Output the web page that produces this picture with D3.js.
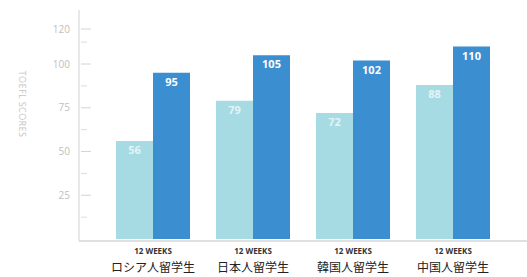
<!DOCTYPE html>
<html>
<head>
<meta charset="utf-8">
<script src="https://cdn.jsdelivr.net/npm/d3@7"></script>
<style>
  body { margin: 0; background: #fff; }
  svg { display: block; }
</style>
</head>
<body>
<script>
var categories = ['ロシア人留学生', '日本人留学生', '韓国人留学生', '中国人留学生'];
var series = ['before', 'after'];
var beforeScores = [56, 79, 72, 88];
var afterScores = [95, 105, 102, 110];
var tickValues = [25, 50, 75, 100, 120];
var minorTicks = [12.5, 37.5, 62.5, 87.5, 112.5];
var weeksLabel = '12 WEEKS';

var width = 527, height = 277;
var colors = { before: '#a7dbe3', after: '#3b8ed0' };

var svg = d3.select('body').append('svg').attr('width', width).attr('height', height);

var y = d3.scaleLinear().domain([0, 100]).range([239, 64]);
var x = d3.scaleBand().domain(categories).range([103, 503]).paddingInner(0.26).paddingOuter(0.13);
var xs = d3.scaleBand().domain(series).range([0, x.bandwidth()]);

var rows = categories.map(function (c, i) {
  return { cat: c, values: [
    { key: 'before', value: beforeScores[i] },
    { key: 'after', value: afterScores[i] }
  ] };
});

// axis line + baseline
svg.append('line').attr('x1', 79).attr('x2', 79).attr('y1', 10).attr('y2', 241)
  .attr('stroke', '#e0e0e0').attr('stroke-width', 1.5);
svg.append('line').attr('x1', 79).attr('x2', width).attr('y1', 241).attr('y2', 241)
  .attr('stroke', '#e0e0e0').attr('stroke-width', 2);

// ticks
svg.selectAll('.major').data(tickValues).enter().append('line')
  .attr('x1', 81).attr('x2', 91)
  .attr('y1', function (d) { return y(d); }).attr('y2', function (d) { return y(d); })
  .attr('stroke', '#d4d4d4').attr('stroke-width', 1);
svg.selectAll('.minor').data(minorTicks).enter().append('line')
  .attr('x1', 81).attr('x2', 87)
  .attr('y1', function (d) { return y(d); }).attr('y2', function (d) { return y(d); })
  .attr('stroke', '#dedede').attr('stroke-width', 1);
svg.selectAll('.tlab').data(tickValues).enter().append('text')
  .attr('x', 70).attr('y', function (d) { return y(d); }).attr('dy', '0.35em')
  .attr('text-anchor', 'end')
  .attr('font-family', 'Open Sans, sans-serif').attr('font-size', 10)
  .attr('fill', '#c0c0c0')
  .text(function (d) { return d; });

svg.append('text')
  .attr('transform', 'translate(22,104) rotate(90)')
  .attr('text-anchor', 'middle').attr('dy', '0.35em')
  .attr('font-family', 'Open Sans, sans-serif').attr('font-size', 9)
  .attr('letter-spacing', 0.4)
  .attr('fill', '#c4c4c4')
  .text('TOEFL SCORES');

// bars
var groups = svg.selectAll('.grp').data(rows).enter().append('g')
  .attr('transform', function (d) { return 'translate(' + x(d.cat) + ',0)'; });

groups.selectAll('rect').data(function (d) { return d.values; }).enter().append('rect')
  .attr('x', function (d) { return xs(d.key); })
  .attr('width', xs.bandwidth())
  .attr('y', function (d) { return y(d.value); })
  .attr('height', function (d) { return y(0) - y(d.value); })
  .attr('fill', function (d) { return colors[d.key]; });

groups.selectAll('.val').data(function (d) { return d.values; }).enter().append('text')
  .attr('x', function (d) { return xs(d.key) + xs.bandwidth() / 2; })
  .attr('y', function (d) { return y(d.value) + 13; })
  .attr('text-anchor', 'middle')
  .attr('font-family', 'Open Sans, sans-serif').attr('font-weight', 'bold').attr('font-size', 11)
  .attr('fill', '#fff')
  .attr('fill-opacity', function (d) { return d.key === 'before' ? 0.7 : 1; })
  .text(function (d) { return d.value; });

// category labels
groups.append('text')
  .attr('x', x.bandwidth() / 2).attr('y', 254)
  .attr('text-anchor', 'middle')
  .attr('font-family', 'Open Sans, sans-serif').attr('font-weight', 'bold').attr('font-size', 8)
  .attr('fill', '#333')
  .text(weeksLabel);
groups.append('text')
  .attr('x', x.bandwidth() / 2).attr('y', 272)
  .attr('text-anchor', 'middle')
  .attr('font-family', 'Noto Sans CJK JP, sans-serif').attr('font-size', 12)
  .attr('fill', '#222')
  .text(function (d) { return d.cat; });
</script>
</body>
</html>
